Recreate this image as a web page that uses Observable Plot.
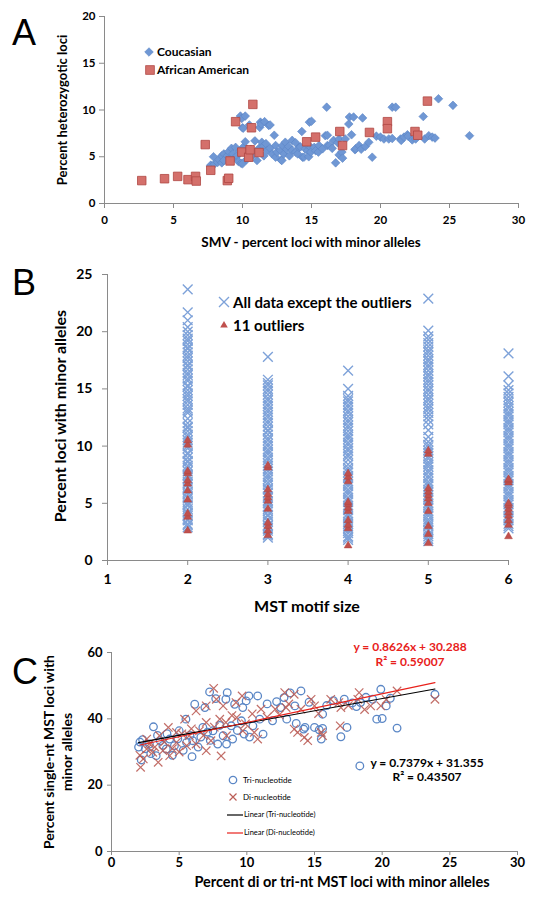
<!DOCTYPE html>
<html><head><meta charset="utf-8">
<script src="https://cdn.jsdelivr.net/npm/d3@7"></script>
<script src="https://cdn.jsdelivr.net/npm/@observablehq/plot@0.6"></script>
<style>
body{margin:0;background:#fff;}
#root{position:relative;width:544px;height:897px;overflow:hidden;font-family:Lato,"Open Sans",sans-serif;}
#root svg.panel{position:absolute;left:0;}
.t{position:absolute;white-space:nowrap;line-height:1;}
.sym{position:absolute;overflow:visible;}
</style></head><body><div id="root"></div>
<script>
// ---------- Panel A data: [SMV %, heterozygotic %] ----------
const caucasian = [[7.7,4.0],[7.7,4.1],[7.9,5.0],[7.95,4.2],[8.2,4.4],[8.3,4.7],[8.5,4.35],[8.5,5.1],[8.65,5.3],[8.65,4.6],[8.9,5.1],[9.0,5.55],[9.2,5.9],[9.25,4.8],[9.3,5.3],[9.5,6.0],[9.5,4.9],[9.6,5.1],[9.7,4.5],[9.8,5.6],[9.85,9.35],[9.9,4.3],[9.95,9.1],[10.0,4.25],[10.0,8.1],[10.05,8.05],[10.1,6.1],[10.2,6.6],[10.2,9.35],[10.3,5.5],[10.3,4.7],[10.5,8.4],[10.6,4.95],[10.6,5.8],[10.8,5.3],[10.9,6.7],[11.05,4.6],[11.2,5.9],[11.25,8.15],[11.3,8.7],[11.35,8.5],[11.4,6.55],[11.5,6.1],[11.55,5.1],[11.6,8.75],[11.7,6.4],[11.8,5.7],[11.9,8.35],[12.0,8.4],[12.0,5.9],[12.15,5.3],[12.3,7.3],[12.4,4.95],[12.4,6.2],[12.5,5.5],[12.75,5.7],[12.8,4.65],[12.85,4.6],[12.9,6.2],[13.0,5.3],[13.1,6.55],[13.2,5.8],[13.35,6.1],[13.4,5.1],[13.6,6.75],[13.6,5.7],[13.85,6.5],[13.85,5.5],[14.0,5.3],[14.1,6.0],[14.2,6.05],[14.3,7.7],[14.35,4.95],[14.45,4.95],[14.55,5.85],[14.7,5.65],[14.7,6.3],[14.8,5.0],[14.85,8.7],[14.95,6.0],[14.95,5.5],[15.0,8.8],[15.2,6.0],[15.3,5.65],[15.5,5.5],[15.55,6.2],[15.8,5.85],[16.0,7.25],[16.1,10.3],[16.15,7.3],[16.15,6.2],[16.3,6.2],[16.5,5.9],[16.6,6.75],[16.75,4.35],[16.9,6.5],[17.0,6.9],[17.0,5.2],[17.2,5.5],[17.25,4.85],[17.45,6.9],[17.7,8.5],[17.75,9.25],[17.9,7.35],[18.05,9.25],[18.15,5.75],[18.2,5.85],[18.45,6.2],[18.6,5.8],[18.7,9.15],[18.9,6.1],[19.15,6.55],[19.4,4.95],[19.7,7.2],[20.0,7.1],[20.25,6.9],[20.6,6.9],[20.85,10.3],[20.85,6.95],[21.1,10.3],[21.45,6.9],[21.5,6.75],[21.7,7.1],[21.95,7.35],[22.0,7.2],[22.3,6.8],[22.55,6.9],[23.1,9.3],[23.2,6.9],[23.5,7.25],[23.75,7.1],[23.95,7.0],[24.2,11.2],[25.25,10.5],[26.45,7.25]];
const africanAmerican = [[2.7,2.45],[4.35,2.65],[5.3,2.9],[6.05,2.55],[6.6,2.9],[6.65,2.4],[7.3,6.3],[7.7,3.55],[8.9,2.45],[9.0,2.7],[9.1,4.55],[9.5,8.75],[9.95,5.5],[10.45,4.95],[10.55,5.75],[10.65,8.1],[10.75,10.6],[11.2,5.45],[14.65,6.6],[15.3,7.1],[17.05,7.7],[17.25,6.2],[19.2,7.6],[20.5,8.75],[20.5,8.0],[22.5,7.7],[22.7,7.3],[23.4,10.95]];
const ticksAx = [0,5,10,15,20,25,30];
const ticksAy = [0,5,10,15,20];

// ---------- Panel B data: percent loci with minor alleles per MST motif size ----------
const motifSizes = [2,3,4,5,6];
const allData2 = [2.9,3.1,3.2,3.5,3.6,3.9,4.1,4.2,4.5,4.8,4.9,5.1,5.4,5.5,5.8,6.0,6.3,6.4,6.7,6.9,7.2,7.4,7.5,7.8,8.1,8.3,8.6,8.7,9.0,9.3,9.4,9.8,10.0,10.3,10.5,10.8,11.0,11.3,11.6,11.7,12.0,12.4,12.9,13.1,13.3,13.6,13.9,14.1,14.4,14.6,14.9,15.2,15.3,15.7,15.9,16.2,16.4,16.7,17.0,17.1,17.4,17.7,17.9,18.2,18.5,18.6,18.9,19.2,19.4,19.7,20.0,20.4,21.0,21.7,23.7];
const allData3 = [2.0,2.2,2.3,2.6,2.8,3.0,3.1,3.4,3.6,3.9,4.0,4.3,4.5,4.7,5.0,5.2,5.5,5.6,5.9,6.2,6.3,6.6,6.8,7.1,7.3,7.5,7.8,8.0,8.3,8.5,8.8,9.0,9.3,9.5,9.7,10.0,10.2,10.5,10.7,11.0,11.3,11.4,11.7,12.0,12.2,12.5,12.7,13.0,13.2,13.5,13.7,14.0,14.2,14.5,14.8,15.0,15.3,15.5,15.8,17.8];
const allData4 = [1.8,2.0,2.1,2.4,2.6,2.8,3.0,3.2,3.4,3.7,3.9,4.1,4.4,4.6,4.8,5.1,5.3,5.5,5.8,6.0,6.2,6.5,6.7,6.9,7.2,7.4,7.7,7.9,8.1,8.4,8.8,9.1,9.3,9.6,9.8,10.1,10.3,10.6,10.8,11.0,11.3,11.6,11.8,12.1,12.3,12.6,12.9,13.1,13.4,13.6,13.9,14.1,14.4,15.0,16.6];
const allData5 = [1.7,1.9,2.1,2.3,2.6,2.7,3.0,3.2,3.4,3.6,3.9,4.1,4.3,4.6,4.8,5.0,5.3,5.5,5.7,6.0,6.2,6.5,6.7,6.9,7.2,7.4,7.7,7.9,8.2,8.4,8.6,8.9,9.1,9.4,9.6,9.9,10.1,10.4,10.8,11.4,11.9,12.3,12.6,12.9,13.2,13.4,13.7,14.0,14.2,14.5,14.8,15.0,15.3,15.6,15.8,16.1,16.3,16.6,16.9,17.1,17.4,17.6,17.9,18.2,18.4,18.7,19.0,19.3,19.6,20.1,22.9];
const allData6 = [2.8,3.0,3.2,3.5,3.7,3.9,4.2,4.4,4.6,4.9,5.1,5.3,5.6,5.8,6.0,6.3,6.5,6.7,7.0,7.2,7.4,7.7,7.9,8.1,8.4,8.6,8.8,9.1,9.3,9.5,9.8,10.0,10.2,10.5,10.7,10.9,11.2,11.4,11.6,11.9,12.1,12.3,12.6,12.8,13.0,13.3,13.5,13.8,14.0,14.3,14.6,14.9,15.3,16.1,18.1];
const outliers2 = [2.6,3.8,4.1,5.3,6.1,6.7,7.0,7.6,7.8,10.1,10.5];
const outliers3 = [2.2,2.6,3.0,3.3,4.5,5.2,5.5,5.8,6.2,8.1,8.3];
const outliers4 = [1.3,2.8,3.1,3.5,4.3,4.6,4.9,5.1,6.9,7.3,7.6];
const outliers5 = [1.5,2.3,3.0,4.3,5.0,5.4,5.7,6.0,6.3,9.3,9.6];
const outliers6 = [2.1,3.1,3.5,3.9,4.2,4.5,4.8,5.0,6.8,7.0,7.1];
const ticksBx = [1,2,3,4,5,6];
const ticksBy = [0,5,10,15,20,25];

// ---------- Panel C data: [di/tri-nt %, single-nt %] ----------
const triNucleotide = [[2.2,27.6],[2.3,33.7],[2.8,32.4],[3.1,37.6],[3.3,28.9],[3.6,33.4],[4.05,30.9],[4.3,33.9],[4.65,31.9],[5.0,36.4],[5.5,39.9],[5.55,32.9],[5.95,28.6],[6.0,33.4],[6.15,44.4],[6.75,37.4],[6.9,43.4],[7.25,48.1],[7.5,36.4],[7.7,46.1],[7.85,32.4],[8.25,34.9],[8.45,45.9],[8.5,32.4],[8.55,47.9],[8.85,37.9],[8.95,33.9],[9.1,44.4],[9.6,39.4],[9.7,43.4],[9.8,35.4],[9.95,45.4],[10.15,46.9],[10.45,37.9],[10.8,46.9],[10.95,39.9],[11.2,35.4],[11.9,39.4],[12.75,46.4],[12.95,39.9],[13.55,43.9],[13.65,38.6],[14.0,48.4],[14.2,36.9],[14.3,37.4],[15.0,37.4],[15.35,36.7],[15.5,33.9],[15.6,37.1],[15.6,41.4],[16.95,34.6],[17.2,45.9],[17.4,37.4],[18.1,43.7],[18.35,25.8],[18.4,44.9],[19.3,45.9],[19.6,39.9],[19.9,48.9],[20.0,40.1],[20.3,43.9],[21.1,37.2],[23.9,47.4],[2.5,31.0],[2.9,29.5],[3.4,35.0],[3.8,32.0],[4.1,35.5],[4.5,29.0],[4.9,34.0],[5.3,30.5],[5.8,35.0],[6.4,31.5],[6.6,34.5],[7.1,36.0],[7.3,33.5],[8.0,38.0],[9.3,36.5],[10.2,34.5],[11.5,44.5],[12.2,45.2],[13.2,47.8],[15.9,44.0],[16.4,45.5],[17.8,44.8],[18.8,46.5],[12.5,43.4],[14.6,45.0],[20.6,46.2],[2.1,33.0],[2.0,31.5]];
const diNucleotide = [[2.15,25.4],[2.35,27.9],[2.6,33.9],[2.6,30.9],[3.05,29.9],[3.45,26.9],[3.55,34.9],[3.8,30.4],[4.2,37.4],[4.3,28.9],[4.8,35.9],[4.8,32.9],[5.4,39.9],[5.55,31.9],[5.75,34.9],[6.25,42.4],[6.25,32.4],[6.5,36.4],[7.0,43.9],[7.0,38.9],[7.0,30.4],[7.35,33.4],[7.55,49.2],[7.75,45.9],[8.0,39.9],[8.1,28.8],[8.25,43.9],[8.45,38.9],[8.5,34.9],[9.2,44.9],[9.25,40.4],[9.65,46.9],[9.7,36.4],[10.55,35.9],[10.8,33.9],[11.05,42.9],[12.1,42.9],[12.8,47.9],[12.9,43.4],[13.5,47.4],[13.5,36.9],[13.75,35.9],[14.0,42.9],[14.25,34.4],[14.5,33.4],[14.75,45.9],[15.0,43.9],[15.5,35.9],[15.6,34.9],[16.2,45.9],[16.8,44.9],[16.95,43.4],[16.9,37.9],[18.2,45.9],[18.3,47.9],[19.15,43.9],[19.9,43.9],[21.1,48.4],[23.9,45.9],[2.8,32.5],[3.2,31.5],[3.9,33.0],[4.5,31.0],[5.0,30.0],[5.2,35.5],[5.9,37.0],[6.8,35.0],[7.6,37.5],[8.9,41.0],[9.9,38.5],[10.4,41.5],[11.5,40.5],[12.4,41.2],[13.1,44.5],[15.3,41.6],[17.5,44.0],[18.7,42.8],[20.3,45.8],[2.1,29.0]];
const triFit = {slope: 0.7379, intercept: 31.355, r2: "0.43507"};
const diFit = {slope: 0.8626, intercept: 30.288, r2: "0.59007"};
const ticksCx = [0,5,10,15,20,25,30];
const ticksCy = [0,20,40,60];

// ---------- drawing ----------
const root = document.getElementById("root");
const axisGray = "#8a8a8a";
const font = "Lato, 'Open Sans', sans-serif";
const intFmt = d => String(d);

function place(svg, top) {
  svg.classList.add("panel");
  svg.style.top = top + "px";
  root.appendChild(svg);
}
function txt(s, x, y, o = {}) {
  const d = document.createElement("div");
  d.className = "t";
  d.textContent = s;
  Object.assign(d.style, {
    left: x + "px", top: y + "px",
    fontSize: (o.size || 12) + "px",
    fontWeight: o.weight || "bold",
    color: o.color || "#000",
    fontFamily: o.family || font,
    transform: o.transform || "translate(0,-50%)"
  });
  root.appendChild(d);
}
function sym(x, y, inner) {
  const s = document.createElementNS("http://www.w3.org/2000/svg", "svg");
  s.setAttribute("class", "sym");
  s.setAttribute("width", 20); s.setAttribute("height", 20);
  s.style.left = (x - 10) + "px"; s.style.top = (y - 10) + "px";
  s.innerHTML = `<g transform="translate(10,10)">${inner}</g>`;
  root.appendChild(s);
}

// Panel A
const plotA = Plot.plot({
  width: 544, height: 250,
  marginLeft: 104, marginRight: 26, marginTop: 16, marginBottom: 47,
  style: {fontFamily: font, fontSize: "11.5px", fontWeight: "bold", background: "transparent", color: "#000"},
  x: {domain: [0, 30]},
  y: {domain: [0, 20]},
  marks: [
    Plot.ruleY([0], {stroke: axisGray}),
    Plot.ruleX([0], {stroke: axisGray}),
    Plot.axisX({ticks: ticksAx, tickFormat: intFmt, tickSize: 5, tickPadding: 7, stroke: axisGray, fill: "#000", label: null}),
    Plot.axisY({ticks: ticksAy, tickFormat: intFmt, tickSize: 5, tickPadding: 4, stroke: axisGray, fill: "#000", label: null}),
    Plot.dot(caucasian, {x: d => d[0], y: d => d[1], symbol: "diamond2", r: 3.9, fill: "#6f97d4", stroke: "#5b85c6", strokeWidth: 0.6}),
    Plot.dot(africanAmerican, {x: d => d[0], y: d => d[1], symbol: "square", r: 4.8, fill: "#d4706b", stroke: "#b04844", strokeWidth: 0.8})
  ]
});
place(plotA, 0);

// Panel B
const bAll = motifSizes.flatMap((m, i) => [allData2, allData3, allData4, allData5, allData6][i].map(v => ({m, v})));
const bOut = motifSizes.flatMap((m, i) => [outliers2, outliers3, outliers4, outliers5, outliers6][i].map(v => ({m, v})));
const plotB = Plot.plot({
  width: 544, height: 365,
  marginLeft: 107, marginRight: 36, marginTop: 19, marginBottom: 60,
  style: {fontFamily: font, fontSize: "14px", fontWeight: "bold", background: "transparent", color: "#000"},
  x: {domain: [1, 6]},
  y: {domain: [0, 25]},
  marks: [
    Plot.ruleY([0], {stroke: axisGray}),
    Plot.ruleX([1], {stroke: axisGray}),
    Plot.axisX({ticks: ticksBx, tickFormat: intFmt, tickSize: 5, tickPadding: 9, stroke: axisGray, fill: "#000", label: null}),
    Plot.axisY({ticks: ticksBy, tickFormat: intFmt, tickSize: 5, tickPadding: 10, stroke: axisGray, fill: "#000", label: null}),
    Plot.dot(bAll, {x: "m", y: "v", symbol: "times", r: 4.5, stroke: "#7ea2d9", strokeWidth: 1.4}),
    Plot.dot(bOut, {x: "m", y: "v", symbol: "triangle", r: 2.9, fill: "#c0504d", stroke: "#b04541", strokeWidth: 0.5})
  ]
});
place(plotB, 255);

// Panel C
const fitLine = (data, fit) => {
  const ext = d3.extent(data, d => d[0]);
  return ext.map(x => ({x, y: fit.slope * x + fit.intercept}));
};
const plotC = Plot.plot({
  width: 544, height: 272,
  marginLeft: 111, marginRight: 27, marginTop: 27, marginBottom: 46,
  style: {fontFamily: font, fontSize: "13px", fontWeight: "bold", background: "transparent", color: "#000"},
  x: {domain: [0, 30]},
  y: {domain: [0, 60]},
  marks: [
    Plot.ruleY([0], {stroke: axisGray}),
    Plot.ruleX([0], {stroke: axisGray}),
    Plot.axisX({ticks: ticksCx, tickFormat: intFmt, tickSize: 4, tickPadding: 2, stroke: axisGray, fill: "#000", label: null}),
    Plot.axisY({ticks: ticksCy, tickFormat: intFmt, tickSize: 4, tickPadding: 5, stroke: axisGray, fill: "#000", label: null}),
    Plot.dot(triNucleotide, {x: d => d[0], y: d => d[1], symbol: "circle", r: 3.8, stroke: "#5b87c6", strokeWidth: 1.3, fill: "none"}),
    Plot.dot(diNucleotide, {x: d => d[0], y: d => d[1], symbol: "times", r: 3.9, stroke: "#bb5d56", strokeWidth: 1.2, strokeOpacity: 0.9}),
    Plot.line(fitLine(triNucleotide, triFit), {x: "x", y: "y", stroke: "#000", strokeWidth: 1.2}),
    Plot.line(fitLine(diNucleotide, diFit), {x: "x", y: "y", stroke: "#e8211b", strokeWidth: 1.2})
  ]
});
place(plotC, 625);

// Panel letters
const letterFont = "'Liberation Sans', Arial, sans-serif";
txt("A", 12, 33, {size: 36, weight: "normal", family: letterFont});
txt("B", 12, 283, {size: 36, weight: "normal", family: letterFont});
txt("C", 12, 672, {size: 36, weight: "normal", family: letterFont});

// Panel A titles + legend
txt("Percent heterozygotic loci", 62, 110, {size: 13, transform: "translate(-50%,-50%) rotate(-90deg)"});
txt("SMV - percent loci with minor alleles", 311, 243, {size: 13.5, transform: "translate(-50%,-50%)"});
sym(149, 52, `<polygon points="0,-4.3 4.3,0 0,4.3 -4.3,0" fill="#6f97d4" stroke="#5b85c6" stroke-width="0.6"/>`);
txt("Coucasian", 157, 52, {size: 12});
sym(150, 70, `<rect x="-4.3" y="-4.3" width="8.6" height="8.6" fill="#d4706b" stroke="#b04844" stroke-width="0.8"/>`);
txt("African American", 157, 70, {size: 12});

// Panel B titles + legend
txt("Percent loci with minor alleles", 60, 416, {size: 16, transform: "translate(-50%,-50%) rotate(-90deg)"});
txt("MST motif size", 307, 606, {size: 16, transform: "translate(-50%,-50%)"});
sym(224, 302, `<path d="M-5,-5L5,5M-5,5L5,-5" stroke="#7ea2d9" stroke-width="1.4"/>`);
txt("All data except the outliers", 233, 302, {size: 15});
sym(224, 325, `<polygon points="0,-4 3.8,2.6 -3.8,2.6" fill="#c0504d"/>`);
txt("11 outliers", 233, 325, {size: 15});

// Panel C titles, legend, equations
txt("Percent single-nt MST loci with", 49, 752, {size: 14, transform: "translate(-50%,-50%) rotate(-90deg)"});
txt("minor alleles", 67, 752, {size: 14, transform: "translate(-50%,-50%) rotate(-90deg)"});
txt("Percent di or tri-nt MST loci with minor alleles", 342, 882, {size: 14.5, transform: "translate(-50%,-50%)"});
sym(233, 780, `<circle r="3.7" fill="none" stroke="#5b87c6" stroke-width="1.3"/>`);
txt("Tri-nucleotide", 243, 780, {size: 8, weight: "normal"});
sym(233, 797, `<path d="M-3.5,-3.5L3.5,3.5M-3.5,3.5L3.5,-3.5" stroke="#bb5d56" stroke-width="1.2"/>`);
txt("Di-nucleotide", 243, 797, {size: 8, weight: "normal"});
sym(235, 815, `<line x1="-8" x2="8" y1="0" y2="0" stroke="#000" stroke-width="1.2"/>`);
txt("Linear (Tri-nucleotide)", 244, 815, {size: 7.5, weight: "normal"});
sym(235, 833, `<line x1="-8" x2="8" y1="0" y2="0" stroke="#e8211b" stroke-width="1.2"/>`);
txt("Linear (Di-nucleotide)", 244, 833, {size: 7.5, weight: "normal"});
txt(`y = ${diFit.slope}x + ${diFit.intercept}`, 410, 647, {size: 12, color: "#e8211b", transform: "translate(-50%,-50%)"});
txt(`R² = ${diFit.r2}`, 410, 662, {size: 12, color: "#e8211b", transform: "translate(-50%,-50%)"});
txt(`y = ${triFit.slope}x + ${triFit.intercept}`, 427, 763, {size: 12, transform: "translate(-50%,-50%)"});
txt(`R² = ${triFit.r2}`, 427, 777, {size: 12, transform: "translate(-50%,-50%)"});
</script></body></html>
